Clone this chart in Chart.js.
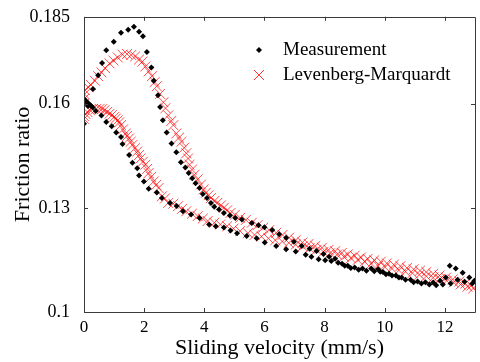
<!DOCTYPE html>
<html lang="en">
  <head>
    <meta charset="UTF-8" />
    <title>Friction ratio vs sliding velocity</title>
    <script src="https://cdn.jsdelivr.net/npm/chart.js"></script>
    <style>
      html, body { margin: 0; padding: 0; overflow: hidden; background: #fff; }
      .box { width: 483px; height: 362px; }
    </style>
  </head>
  <body>
    <div class="box"><canvas id="frictionChart"></canvas></div>

<script>
  // tick labels
  const xTicks = [0, 2, 4, 6, 8, 10, 12];
  const yTicks = [0.1, 0.13, 0.16, 0.185];

  // Measurement, accelerating branch (big hump)
  const meaUpV = [0.00, 0.13, 0.30, 0.47, 0.60, 0.74, 0.99, 1.23, 1.47, 1.66, 1.83, 1.96, 2.09, 2.24,
    2.32, 2.46, 2.53, 2.62, 2.75, 2.91, 3.07, 3.22, 3.37, 3.48, 3.60, 3.71, 3.84, 3.95, 4.09, 4.22,
    4.33, 4.49, 4.65, 4.85, 5.03, 5.25, 5.58, 5.80, 6.00, 6.26, 6.49, 6.72, 6.98, 7.24, 7.50, 7.73,
    7.96, 8.15, 8.35, 8.58, 8.77, 9.00, 9.26, 9.55, 9.78, 9.94, 10.14, 10.37, 10.56, 10.86, 11.09,
    11.35, 11.61, 11.84, 12.03, 12.16, 12.36, 12.59, 12.81, 12.98];
  const meaUpF = [0.1542, 0.1593, 0.1642, 0.1682, 0.1717, 0.1754, 0.1778, 0.1804, 0.1813, 0.1821, 0.1807,
    0.1794, 0.1749, 0.1704, 0.1666, 0.1624, 0.1590, 0.1552, 0.1517, 0.1485, 0.1460, 0.1431, 0.1416,
    0.1400, 0.1385, 0.1371, 0.1357, 0.1340, 0.1328, 0.1314, 0.1303, 0.1295, 0.1285, 0.1278, 0.1271,
    0.1266, 0.1256, 0.1250, 0.1244, 0.1236, 0.1224, 0.1214, 0.1202, 0.1190, 0.1182, 0.1176, 0.1167,
    0.1159, 0.1153, 0.1139, 0.1133, 0.1128, 0.1125, 0.1125, 0.1123, 0.1115, 0.1110, 0.1105, 0.1099,
    0.1093, 0.1088, 0.1086, 0.1085, 0.1090, 0.1099, 0.1133, 0.1125, 0.1113, 0.1099, 0.1090];

  // Measurement, decelerating branch (small hump)
  const meaDownV = [12.91, 12.65, 12.42, 12.19, 11.93, 11.71, 11.48, 11.22, 10.96, 10.69, 10.47, 10.24,
    10.04, 9.85, 9.65, 9.39, 9.13, 8.87, 8.67, 8.45, 8.22, 8.02, 7.80, 7.56, 7.37, 7.04, 6.72, 6.39,
    6.01, 5.74, 5.41, 5.09, 4.87, 4.65, 4.38, 4.16, 3.84, 3.56, 3.29, 3.08, 2.86, 2.59, 2.42, 2.15,
    1.99, 1.83, 1.77, 1.61, 1.50, 1.28, 1.23, 1.07, 0.92, 0.74, 0.58, 0.39, 0.29, 0.24, 0.20, 0.15,
    0.10, 0.07, 0.03, 0.00];
  const meaDownF = [0.1082, 0.1087, 0.1093, 0.1082, 0.1079, 0.1077, 0.1079, 0.1082, 0.1086, 0.1093,
    0.1099, 0.1105, 0.1109, 0.1116, 0.1117, 0.1119, 0.1122, 0.1127, 0.1133, 0.1142, 0.1147, 0.1149,
    0.1152, 0.1159, 0.1165, 0.1174, 0.1181, 0.1190, 0.1200, 0.1212, 0.1219, 0.1227, 0.1235, 0.1243,
    0.1247, 0.1252, 0.1271, 0.1281, 0.1290, 0.1305, 0.1314, 0.1328, 0.1344, 0.1355, 0.1376, 0.1393,
    0.1414, 0.1430, 0.1452, 0.1484, 0.1504, 0.1517, 0.1535, 0.1547, 0.1566, 0.1579, 0.1589, 0.1593,
    0.1596, 0.1600, 0.1604, 0.1607, 0.1610, 0.1613];

  // Levenberg-Marquardt fit, accelerating branch
  const lmUpV = [0.00, 0.00, 0.02, 0.03, 0.14, 0.23, 0.36, 0.47, 0.58, 0.70, 0.85, 0.98, 1.12, 1.28,
    1.43, 1.57, 1.70, 1.83, 1.94, 2.04, 2.15, 2.26, 2.35, 2.42, 2.53, 2.64, 2.71, 2.80, 2.90, 2.97,
    3.07, 3.16, 3.24, 3.33, 3.40, 3.46, 3.51, 3.59, 3.67, 3.78, 3.89, 3.98, 4.05, 4.14, 4.22, 4.34,
    4.43, 4.55, 4.65, 4.76, 4.87, 5.02, 5.19, 5.38, 5.58, 5.77, 5.96, 6.16, 6.39, 6.60, 6.82, 7.04,
    7.26, 7.47, 7.69, 7.91, 8.13, 8.35, 8.57, 8.77, 9.00, 9.21, 9.43, 9.65, 9.87, 10.07, 10.30,
    10.52, 10.74, 10.96, 11.17, 11.38, 11.61, 11.82, 12.04, 12.26, 12.48, 12.68, 12.88];
  const lmUpF = [0.1599, 0.1613, 0.1627, 0.1639, 0.1647, 0.1654, 0.1666, 0.1679, 0.1690, 0.1702,
    0.1716, 0.1724, 0.1733, 0.1741, 0.1743, 0.1740, 0.1736, 0.1727, 0.1721, 0.1707, 0.1693, 0.1679,
    0.1662, 0.1650, 0.1628, 0.1604, 0.1587, 0.1566, 0.1550, 0.1538, 0.1514, 0.1502, 0.1490, 0.1473,
    0.1457, 0.1442, 0.1424, 0.1410, 0.1395, 0.1382, 0.1367, 0.1353, 0.1343, 0.1336, 0.1328, 0.1320,
    0.1314, 0.1307, 0.1300, 0.1293, 0.1285, 0.1280, 0.1271, 0.1265, 0.1257, 0.1250, 0.1243, 0.1236,
    0.1228, 0.1222, 0.1214, 0.1207, 0.1200, 0.1196, 0.1190, 0.1185, 0.1179, 0.1175, 0.1170, 0.1166,
    0.1162, 0.1157, 0.1153, 0.1149, 0.1145, 0.1140, 0.1136, 0.1132, 0.1127, 0.1123, 0.1119, 0.1115,
    0.1110, 0.1105, 0.1099, 0.1094, 0.1088, 0.1082, 0.1076];

  // Levenberg-Marquardt fit, decelerating branch
  const lmDownV = [12.94, 12.75, 12.52, 12.29, 12.06, 11.84, 11.61, 11.38, 11.15, 10.92, 10.69, 10.47,
    10.24, 10.01, 9.78, 9.55, 9.33, 9.10, 8.87, 8.64, 8.41, 8.18, 7.96, 7.73, 7.50, 7.27, 7.04, 6.81,
    6.59, 6.36, 6.13, 5.90, 5.67, 5.45, 5.19, 4.97, 4.76, 4.53, 4.33, 4.11, 3.95, 3.78, 3.59, 3.40,
    3.26, 3.13, 2.97, 2.80, 2.69, 2.59, 2.48, 2.40, 2.32, 2.23, 2.15, 2.10, 2.04, 1.96, 1.88, 1.83,
    1.77, 1.70, 1.61, 1.55, 1.50, 1.43, 1.39, 1.30, 1.23, 1.17, 1.12, 1.06, 1.01, 0.93, 0.85, 0.77,
    0.68, 0.60, 0.52, 0.41, 0.30, 0.20, 0.11, 0.05, 0.00, 0.00];
  const lmDownF = [0.1068, 0.1073, 0.1079, 0.1085, 0.1090, 0.1095, 0.1099, 0.1103, 0.1107, 0.1112,
    0.1116, 0.1120, 0.1125, 0.1129, 0.1133, 0.1139, 0.1145, 0.1150, 0.1155, 0.1159, 0.1165, 0.1169,
    0.1173, 0.1179, 0.1183, 0.1189, 0.1194, 0.1199, 0.1203, 0.1207, 0.1212, 0.1217, 0.1222, 0.1227,
    0.1233, 0.1240, 0.1247, 0.1252, 0.1257, 0.1262, 0.1269, 0.1276, 0.1283, 0.1290, 0.1297, 0.1305,
    0.1312, 0.1314, 0.1327, 0.1333, 0.1357, 0.1366, 0.1376, 0.1389, 0.1400, 0.1412, 0.1424, 0.1433,
    0.1442, 0.1452, 0.1462, 0.1472, 0.1481, 0.1490, 0.1500, 0.1507, 0.1514, 0.1526, 0.1538, 0.1546,
    0.1552, 0.1557, 0.1562, 0.1567, 0.1571, 0.1576, 0.1581, 0.1584, 0.1585, 0.1585, 0.1585, 0.1581,
    0.1576, 0.1570, 0.1564, 0.1556];

  const toPoints = (vs, fs) => vs.map((v, i) => ({ x: v, y: fs[i] }));

  const serif = "Liberation Serif";
  const axisColor = "#3a3a3a";
  Chart.defaults.font.family = serif;

  // box round the plot, ticks pointing inwards, legend inside the plot
  const framePlugin = {
    id: "frame",
    afterDraw(chart) {
      const { ctx, chartArea: a, scales } = chart;
      ctx.save();
      ctx.strokeStyle = axisColor;
      ctx.lineWidth = 1;
      ctx.beginPath();
      ctx.rect(Math.round(a.left) + 0.5, Math.round(a.top) + 0.5,
        Math.round(a.right - a.left), Math.round(a.bottom - a.top));
      ctx.stroke();
      ctx.beginPath();
      xTicks.forEach((t) => {
        const px = Math.round(scales.x.getPixelForValue(t)) + 0.5;
        ctx.moveTo(px, a.bottom); ctx.lineTo(px, a.bottom - 4);
        ctx.moveTo(px, a.top); ctx.lineTo(px, a.top + 4);
      });
      yTicks.forEach((t) => {
        const py = Math.round(scales.y.getPixelForValue(t)) + 0.5;
        ctx.moveTo(a.left, py); ctx.lineTo(a.left + 4, py);
        ctx.moveTo(a.right, py); ctx.lineTo(a.right - 4, py);
      });
      ctx.stroke();

      // legend
      ctx.font = "19px " + serif;
      ctx.fillStyle = "#000";
      ctx.textBaseline = "middle";
      ctx.fillText("Measurement", 283, 50);
      ctx.fillText("Levenberg-Marquardt", 283, 75);
      ctx.beginPath();
      ctx.moveTo(259, 47); ctx.lineTo(262, 50); ctx.lineTo(259, 53); ctx.lineTo(256, 50);
      ctx.closePath();
      ctx.fill();
      ctx.strokeStyle = "rgba(255,0,0,0.8)";
      ctx.beginPath();
      ctx.moveTo(254, 70); ctx.lineTo(264, 80);
      ctx.moveTo(264, 70); ctx.lineTo(254, 80);
      ctx.stroke();
      ctx.restore();
    },
  };

  const ctx = document.getElementById("frictionChart").getContext("2d");
  const frictionChart = new Chart(ctx, {
    type: "scatter",
    data: {
      datasets: [
        {
          label: "Measurement",
          data: toPoints(meaUpV, meaUpF).concat(toPoints(meaDownV, meaDownF)),
          pointStyle: "rectRot",
          radius: 3,
          backgroundColor: "#000",
          borderColor: "#000",
          borderWidth: 0,
        },
        {
          label: "Levenberg-Marquardt",
          data: toPoints(lmUpV, lmUpF).concat(toPoints(lmDownV, lmDownF)),
          pointStyle: "crossRot",
          radius: 7,
          borderColor: "rgba(255,0,0,0.7)",
          borderWidth: 1,
        },
      ],
    },
    options: {
      responsive: true,
      maintainAspectRatio: false,
      animation: false,
      layout: { padding: { top: 14, left: 0, right: 0, bottom: 0 } },
      plugins: {
        legend: { display: false },
        tooltip: { enabled: false },
      },
      scales: {
        x: {
          type: "linear",
          min: 0,
          max: 13,
          afterBuildTicks: (s) => { s.ticks = xTicks.map((v) => ({ value: v })); },
          afterFit: (s) => { s.height = 50; },
          grid: { display: false },
          border: { display: false },
          ticks: { color: "#000", padding: -3, font: { family: serif, size: 17 } },
          title: {
            display: true,
            text: "Sliding velocity (mm/s)",
            color: "#000",
            padding: { top: 0, bottom: 1 },
            font: { family: serif, size: 22 },
          },
        },
        y: {
          type: "linear",
          min: 0.1,
          max: 0.185,
          afterBuildTicks: (s) => { s.ticks = yTicks.map((v) => ({ value: v })); },
          afterFit: (s) => { s.width = 84; },
          grid: { display: false },
          border: { display: false },
          ticks: {
            color: "#000",
            padding: 6,
            font: { family: serif, size: 18 },
            callback: (v) => String(+v.toFixed(3)),
          },
          title: {
            display: true,
            text: "Friction ratio",
            color: "#000",
            padding: { top: 10, bottom: 0 },
            font: { family: serif, size: 22 },
          },
        },
      },
    },
    plugins: [framePlugin],
  });
</script>
  </body>
</html>
